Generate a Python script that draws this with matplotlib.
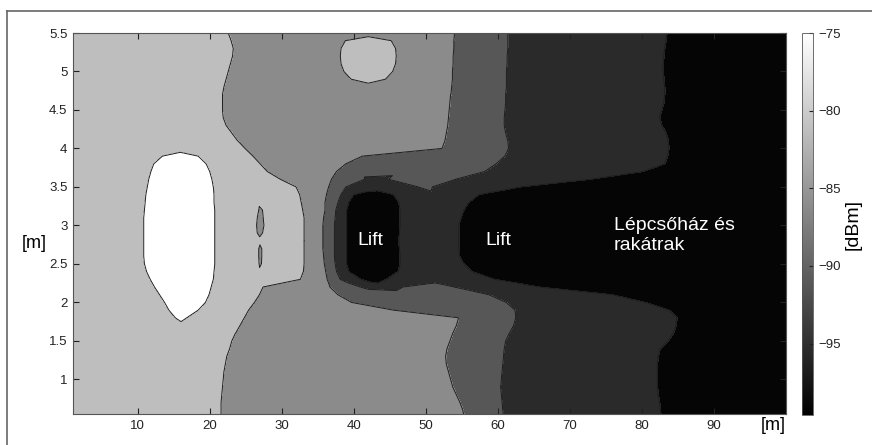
import numpy as np
import matplotlib.pyplot as plt
import matplotlib.tri as mtri
from matplotlib.colors import Normalize
from matplotlib.cm import ScalarMappable
from matplotlib.lines import Line2D

plt.rcParams['font.family'] = ['Liberation Sans', 'DejaVu Sans']

# field strength bands read from the map, one row every 0.1 m
# each token: band letter + x where that band ends [m]
row_y = [5.5, 5.4, 5.3, 5.2, 5.1, 5.0, 4.9, 4.8, 4.7, 4.6, 4.5, 4.4, 4.3, 4.2, 4.1, 4.0,
         3.9, 3.8, 3.7, 3.6, 3.5, 3.4, 3.3, 3.2, 3.1, 3.0, 2.9, 2.8, 2.7, 2.6, 2.5, 2.4,
         2.3, 2.2, 2.1, 2.0, 1.9, 1.8, 1.7, 1.6, 1.5, 1.4, 1.3, 1.2, 1.1, 1.0, 0.9, 0.8,
         0.7, 0.6, 0.5]
row_bands = [
    "L22.6 M42.0 M54.0 D61.4 V83.5 B100",
    "L23.0 M38.8 L45.2 M53.9 D61.4 V83.4 B100",
    "L23.3 M38.2 L45.8 M53.9 D61.4 V83.2 B100",
    "L23.2 M38.1 L45.9 M53.8 D61.3 V83.1 B100",
    "L22.9 M38.2 L45.8 M53.8 D61.3 V83.0 B100",
    "L22.6 M38.6 L45.4 M53.7 D61.2 V83.0 B100",
    "L22.3 M39.6 L44.4 M53.7 D61.2 V83.1 B100",
    "L22.0 M42.0 M53.6 D61.2 V83.2 B100",
    "L21.8 M53.5 D61.1 V83.2 B100",
    "L21.8 M53.4 D61.1 V83.1 B100",
    "L21.8 M53.3 D61.0 V82.8 B100",
    "L21.9 M53.2 D60.9 V82.5 B100",
    "L22.3 M53.1 D60.9 V82.8 B100",
    "L23.1 M52.9 D61.1 V83.4 B100",
    "L23.9 M52.7 D61.4 V83.7 B100",
    "L15.9 L24.9 M52.3 D61.5 V83.8 B100",
    "L13.4 W18.4 L26.0 M41.2 D61.0 V83.6 B100",
    "L12.2 W19.5 L27.0 M38.9 D59.8 V83.2 B100",
    "L11.8 W20.0 L28.0 M37.6 D58.2 V80.2 B100",
    "L11.5 W20.3 L29.8 M36.9 D41.5 V44.8 D54.2 V73.0 B100",
    "L11.3 W20.5 L32.0 M36.5 D38.9 V48.9 D50.9 V63.2 B100",
    "L11.1 W20.6 L32.5 M36.2 D38.2 V40.0 B45.5 V57.4 B100",
    "L11.0 W20.6 L32.7 M36.0 D37.8 V39.3 B46.2 V56.0 B100",
    "L10.9 W20.7 L26.8 M27.3 L32.9 M36.0 D37.5 V39.0 B46.4 V55.3 B100",
    "L10.8 W20.7 L26.6 M27.4 L33.1 M35.8 D37.4 V39.0 B46.4 V54.9 B100",
    "L10.8 W20.7 L26.5 M27.5 L33.1 M35.7 D37.3 V39.0 B46.4 V54.6 B100",
    "L10.8 W20.7 L26.6 M27.3 L33.1 M35.7 D37.3 V39.0 B46.3 V54.6 B100",
    "L10.8 W20.7 L33.1 M35.7 D37.3 V39.0 B46.2 V54.6 B100",
    "L10.8 W20.7 L26.8 M27.2 L33.1 M35.7 D37.3 V39.0 B46.3 V54.6 B100",
    "L10.8 W20.7 L26.8 M27.2 L33.1 M35.8 D37.3 V39.0 B46.4 V54.7 B100",
    "L10.9 W20.7 L26.85 M27.15 L33.1 M35.9 D37.4 V39.0 B46.4 V55.3 B100",
    "L11.2 W20.6 L33.0 M36.1 D37.6 V39.3 B46.1 V56.4 B100",
    "L11.7 W20.5 L32.6 M36.3 D38.1 V41.0 B44.5 V59.6 B100",
    "L12.3 W20.2 L27.4 M36.7 D40.9 V46.8 D54.0 V65.8 B100",
    "L13.0 W19.9 L26.9 M37.8 D58.8 V75.9 B100",
    "L13.7 W19.4 L26.2 M39.7 D61.2 V80.5 B100",
    "L14.3 W18.4 L25.4 M45.5 D62.4 V83.8 B100",
    "L15.2 W16.8 L24.8 M54.6 D62.5 V84.9 B100",
    "L16.0 L24.2 M54.3 D62.2 V84.8 B100",
    "L23.6 M53.8 D61.6 V84.4 B100",
    "L23.1 M53.4 D61.1 V83.7 B100",
    "L22.8 M53.0 D60.9 V82.6 B100",
    "L22.4 M52.8 D60.8 V82.3 B100",
    "L22.2 M52.9 D60.7 V82.2 B100",
    "L22.0 M53.2 D60.6 V82.2 B100",
    "L21.9 M53.5 D60.5 V82.2 B100",
    "L21.8 M53.8 D60.4 V82.2 B100",
    "L21.7 M54.3 D60.5 V82.3 B100",
    "L21.6 M54.8 D60.6 V82.5 B100",
    "L21.6 M55.2 D60.7 V82.6 B100",
    "L21.6 M55.4 D60.8 V82.7 B100",
]

# dBm inside each band and on the border between two bands
band_value = {'W': -77.5, 'L': -82.5, 'M': -87.25, 'D': -91.25, 'V': -94.5, 'B': -97.5}
edge_level = {'WL': -80, 'LM': -85, 'MD': -89.5, 'DV': -93, 'VB': -96}
levels = [-100, -96, -93, -89.5, -85, -80, -75]
fill_colors = ['#050505', '#2a2a2a', '#575757', '#8b8b8b', '#bebebe', '#ffffff']

xticks = [10, 20, 30, 40, 50, 60, 70, 80, 90]
yticks = [1, 1.5, 2, 2.5, 3, 3.5, 4, 4.5, 5, 5.5]
ytick_labels = ['1', '1.5', '2', '2.5', '3', '3.5', '4', '4.5', '5', '5.5']
cbar_ticks = [-95, -90, -85, -80, -75]

# sample points along every row
px, py, pz = [], [], []
for y, row in zip(row_y, row_bands):
    segs = [(s[0], float(s[1:])) for s in row.split()]
    px.append(0.0); py.append(y); pz.append(band_value[segs[0][0]])
    start = 0.0
    for i, (b, end) in enumerate(segs):
        px.append((start + end) / 2); py.append(y); pz.append(band_value[b])
        if i < len(segs) - 1:
            nb = segs[i + 1][0]
            if nb == b:
                z = band_value[b]
            else:
                z = edge_level[b + nb] if b + nb in edge_level else edge_level[nb + b]
            px.append(end); py.append(y); pz.append(z)
        start = end
    px.append(100.0); py.append(y); pz.append(band_value[segs[-1][0]])

px = np.array(px)
py = np.array(py)
pz = np.array(pz)
t0 = mtri.Triangulation(px, py * 100)
tri = mtri.Triangulation(px, py, t0.triangles)

fig = plt.figure(figsize=(8.72, 4.45), dpi=100)
ax = fig.add_axes([73 / 872, 1 - 414 / 445, 713 / 872, 381 / 445])
ax.tricontourf(tri, pz, levels=levels, colors=fill_colors)
# line levels nudged off the sample values so the outlines stay continuous
line_levels = [l + 0.01 for l in levels[1:-1]]
ax.tricontour(tri, pz, levels=line_levels, colors='#1e1e1e', linewidths=0.7,
              linestyles='solid')

ax.set_xlim(1, 100)
ax.set_ylim(0.55, 5.5)
ax.set_xticks(xticks)
ax.set_yticks(yticks)
ax.set_yticklabels(ytick_labels)
ax.tick_params(direction='in', length=4, top=True, right=True, labelsize=9.5,
               colors='#222222', pad=4)
for s in ax.spines.values():
    s.set_color('#555555')
    s.set_linewidth(0.8)

ax.text(42.3, 2.8, 'Lift', color='white', fontsize=14, ha='center', va='center')
ax.text(60.1, 2.8, 'Lift', color='white', fontsize=14, ha='center', va='center')
ax.text(76.1, 2.87, 'Lépcsőház és\nrakátrak', color='white', fontsize=14,
        ha='left', va='center', linespacing=1.25)

fig.text(34 / 872, 1 - 244 / 445, '[m]', fontsize=13, ha='center', va='center')
fig.text(786 / 872, 1 - 425 / 445, '[m]', fontsize=13, ha='right', va='center')

cax = fig.add_axes([801.7 / 872, 1 - 415 / 445, 11.6 / 872, 382 / 445])
sm = ScalarMappable(norm=Normalize(-99.6, -75), cmap='gray')
cb = fig.colorbar(sm, cax=cax)
cb.set_ticks(cbar_ticks)
cb.outline.set_linewidth(0.6)
cb.outline.set_edgecolor('#555555')
cax.tick_params(direction='in', length=3, labelsize=9.5, colors='#222222', pad=4)
fig.text(853 / 872, 1 - 225 / 445, '[dBm]', fontsize=14, rotation=90,
         ha='center', va='center')

# outer frame (top and left edges)
fig.add_artist(Line2D([7 / 872, 1], [1 - 11 / 445, 1 - 11 / 445],
                      transform=fig.transFigure, color='#666666', lw=1.2))
fig.add_artist(Line2D([7 / 872, 7 / 872], [0, 1 - 11 / 445],
                      transform=fig.transFigure, color='#666666', lw=1.2))

fig.savefig('out.png', dpi=100)
